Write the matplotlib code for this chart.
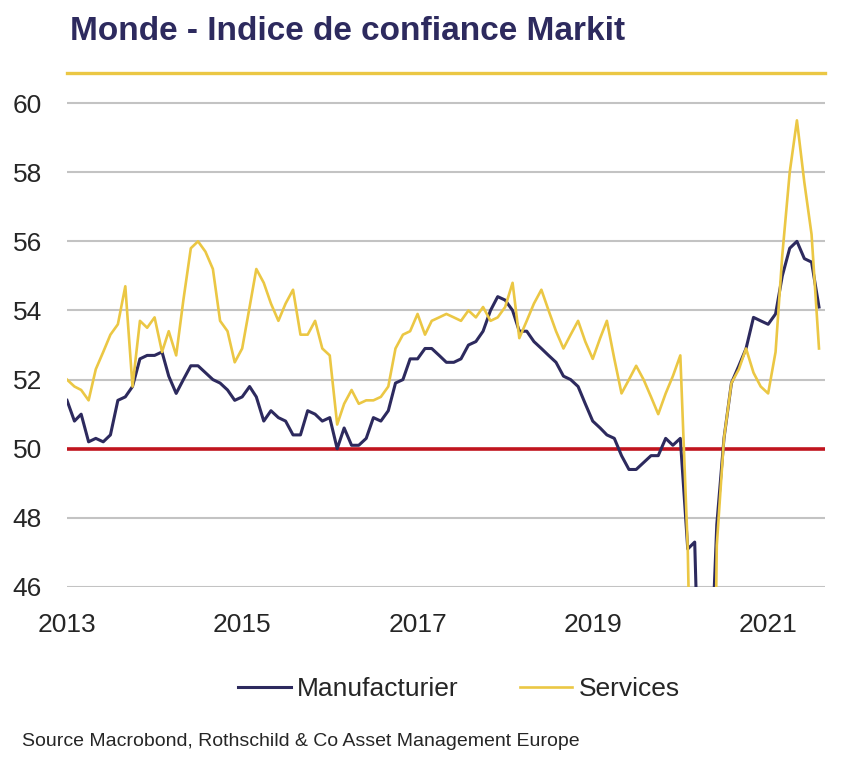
import numpy as np
import pandas as pd
import matplotlib
matplotlib.use("Agg")
import matplotlib.pyplot as plt
import matplotlib.dates as mdates

plt.rcParams['font.family'] = ['Liberation Sans', 'DejaVu Sans']

# monthly PMI, Jan 2013 - Aug 2021
dates = pd.date_range('2013-01-01', periods=104, freq='MS')

manufacturier = [
    51.4, 50.8, 51.0, 50.2, 50.3, 50.2, 50.4, 51.4, 51.5, 51.8, 52.6, 52.7,   # 2013
    52.7, 52.8, 52.1, 51.6, 52.0, 52.4, 52.4, 52.2, 52.0, 51.9, 51.7, 51.4,   # 2014
    51.5, 51.8, 51.5, 50.8, 51.1, 50.9, 50.8, 50.4, 50.4, 51.1, 51.0, 50.8,   # 2015
    50.9, 50.0, 50.6, 50.1, 50.1, 50.3, 50.9, 50.8, 51.1, 51.9, 52.0, 52.6,   # 2016
    52.6, 52.9, 52.9, 52.7, 52.5, 52.5, 52.6, 53.0, 53.1, 53.4, 54.0, 54.4,   # 2017
    54.3, 54.0, 53.4, 53.4, 53.1, 52.9, 52.7, 52.5, 52.1, 52.0, 51.8, 51.3,   # 2018
    50.8, 50.6, 50.4, 50.3, 49.8, 49.4, 49.4, 49.6, 49.8, 49.8, 50.3, 50.1,   # 2019
    50.3, 47.1, 47.3, 39.6, 42.4, 47.8, 50.3, 51.9, 52.4, 52.9, 53.8, 53.7,   # 2020
    53.6, 53.9, 55.0, 55.8, 56.0, 55.5, 55.4, 54.1,                           # 2021
]

services = [
    52.0, 51.8, 51.7, 51.4, 52.3, 52.8, 53.3, 53.6, 54.7, 51.8, 53.7, 53.5,
    53.8, 52.8, 53.4, 52.7, 54.3, 55.8, 56.0, 55.7, 55.2, 53.7, 53.4, 52.5,
    52.9, 54.1, 55.2, 54.8, 54.2, 53.7, 54.2, 54.6, 53.3, 53.3, 53.7, 52.9,
    52.7, 50.7, 51.3, 51.7, 51.3, 51.4, 51.4, 51.5, 51.8, 52.9, 53.3, 53.4,
    53.9, 53.3, 53.7, 53.8, 53.9, 53.8, 53.7, 54.0, 53.8, 54.1, 53.7, 53.8,
    54.1, 54.8, 53.2, 53.7, 54.2, 54.6, 54.0, 53.4, 52.9, 53.3, 53.7, 53.1,
    52.6, 53.2, 53.7, 52.6, 51.6, 52.0, 52.4, 52.0, 51.5, 51.0, 51.6, 52.1,
    52.7, 47.1, 37.0, 23.7, 30.7, 47.2, 50.3, 51.9, 52.3, 52.9, 52.2, 51.8,
    51.6, 52.8, 55.6, 58.0, 59.5, 57.7, 56.2, 52.9,
]

yticks = [46, 48, 50, 52, 54, 56, 58, 60]
year_ticks = ['2013', '2015', '2017', '2019', '2021']

navy = '#2d2a5e'
gold = '#ebc744'
red = '#c0141e'
grey = '#c3c3c3'
text_col = '#262626'

fig = plt.figure(figsize=(8.64, 7.73), dpi=100)
ax = fig.add_axes([67 / 864, 1 - 587 / 773, (825 - 67) / 864, (587 - 73) / 773])

for v in yticks:
    if v != 50:
        ax.axhline(v, color=grey, lw=1.5, zorder=1)
ax.axhline(50, color=red, lw=2.6, zorder=2)

ax.plot(dates, manufacturier, color=navy, lw=2.2, label='Manufacturier', zorder=3)
ax.plot(dates, services, color=gold, lw=1.9, label='Services', zorder=4)

ax.set_ylim(46, 60.87)
ax.set_xlim(pd.Timestamp('2013-01-01'), pd.Timestamp('2021-08-26'))
ax.set_yticks(yticks)
ax.set_xticks([pd.Timestamp(y + '-01-01') for y in year_ticks])
ax.xaxis.set_major_formatter(mdates.DateFormatter('%Y'))
ax.tick_params(axis='both', length=0, labelsize=19, colors=text_col)
ax.tick_params(axis='y', pad=18)
ax.tick_params(axis='x', pad=19)

for s in ['left', 'right', 'bottom']:
    ax.spines[s].set_visible(False)
ax.spines['top'].set_color(gold)
ax.spines['top'].set_linewidth(2.4)

fig.text(70 / 864, 1 - 32 / 773, 'Monde - Indice de confiance Markit',
         fontsize=24, fontweight='bold', color=navy, va='center', ha='left')

fig.legend(loc='center', bbox_to_anchor=(459 / 864, 1 - 689 / 773), ncol=2,
           frameon=False, fontsize=19, handlelength=2.0, handletextpad=0.25,
           columnspacing=2.3, labelcolor=text_col)

fig.text(22 / 864, 1 - 741 / 773,
         'Source Macrobond, Rothschild & Co Asset Management Europe',
         fontsize=14, color=text_col, va='center', ha='left')

fig.savefig('out.png', dpi=100)
